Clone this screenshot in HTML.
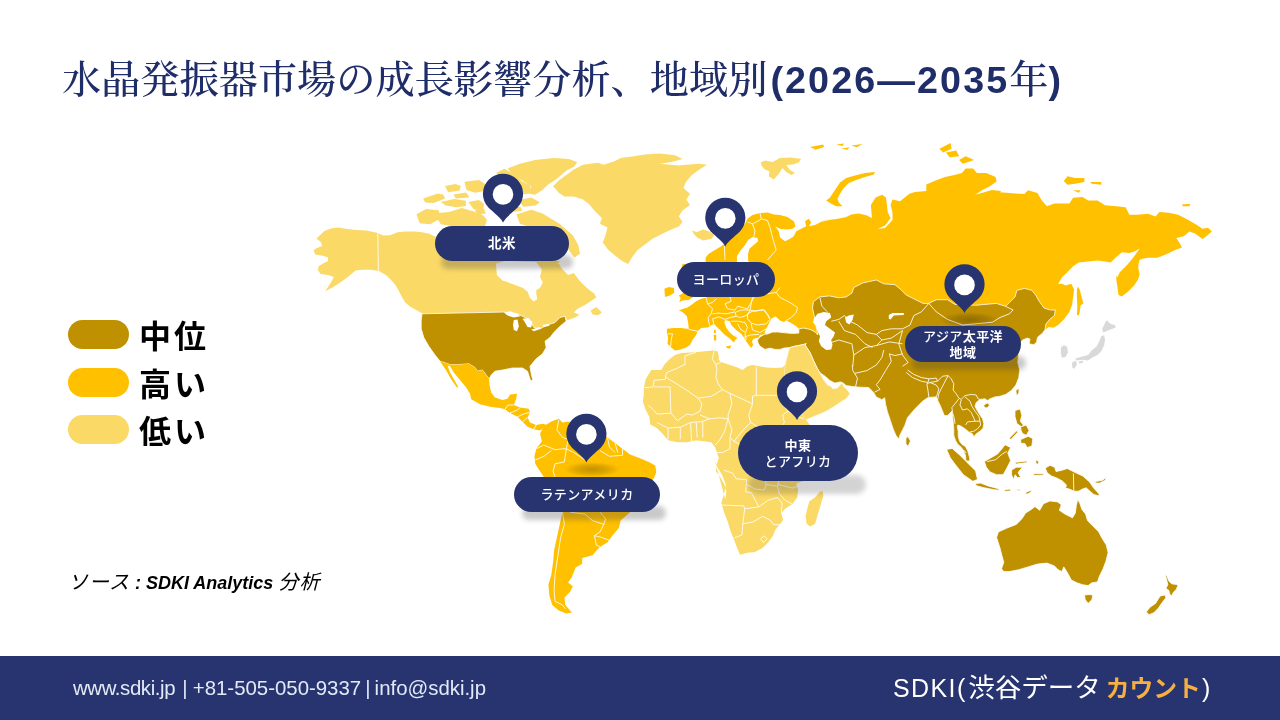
<!DOCTYPE html>
<html lang="ja">
<head>
<meta charset="utf-8">
<title>水晶発振器市場の成長影響分析</title>
<style>
html,body{margin:0;padding:0;}
body{width:1280px;height:720px;position:relative;overflow:hidden;background:#fff;font-family:"Liberation Sans","Noto Sans CJK JP",sans-serif;}
.title{position:absolute;left:62px;top:53px;white-space:nowrap;color:#1f2d69;font-family:"Liberation Serif","Noto Serif CJK SC",serif;font-size:39.2px;line-height:54px;font-weight:500;}
.title b{font-family:"Liberation Sans","Noto Sans CJK JP",sans-serif;font-weight:700;font-size:37.7px;letter-spacing:2.1px;}
.lg{position:absolute;left:68px;width:61px;height:29px;border-radius:15px;}
.lt{position:absolute;left:139px;font-weight:700;font-size:32px;line-height:36px;letter-spacing:3px;color:#000;white-space:nowrap;}
.src{position:absolute;left:68px;top:569px;font-style:italic;font-size:18px;line-height:26px;color:#000;white-space:nowrap;}
.footer{position:absolute;left:0;top:656px;width:1280px;height:64px;background:#27346f;}
.fl{position:absolute;left:73px;top:20px;color:#e4e9f7;font-size:20.4px;line-height:24px;white-space:nowrap;word-spacing:1.5px;}
.fr{position:absolute;left:893px;top:14px;color:#fff;font-size:25px;line-height:36px;white-space:nowrap;}
.fr b{color:#f5b041;font-weight:700;font-size:23.8px;}
#map{position:absolute;left:0;top:0;}
.psh{position:absolute;border-radius:10px;background:rgba(60,60,60,.28);filter:blur(2.5px);}
.pill{position:absolute;background:#27346f;border-radius:18px;color:#fff;font-family:"Liberation Sans","Noto Sans CJK JP",sans-serif;font-weight:500;font-size:13px;line-height:16.2px;letter-spacing:.4px;text-align:center;padding-top:2px;box-sizing:border-box;display:flex;align-items:center;justify-content:center;}
</style>
</head>
<body>
<svg id="map" width="1280" height="720" viewBox="0 0 1280 720">
<!--MAP-->
<path d="M435,236.6 L429.4,233.8 L421.9,232.3 L414.4,231.5 L405,231.5 L397.5,232.3 L390,235.3 L383.4,235.6 L376.9,232.8 L366.6,230.6 L356.3,230 L346.9,229.1 L338.4,227.6 L330.9,228.5 L324.4,230.9 L319.7,235.6 L316.5,238.4 L321,242.2 L322.1,245.9 L315.9,248.4 L313.5,250.6 L315.4,254.4 L322.5,255.7 L327.8,257.2 L328.1,260.9 L322.5,263.8 L318.4,266.6 L318,270.3 L320.6,274.1 L328.1,275 L333.8,276.9 L330.9,282.5 L325.3,291.3 L332.8,287.2 L340.3,282.5 L346.9,277.8 L353.4,272.2 L356.3,270.3 L363.8,269.8 L371.3,269.8 L377.8,270.9 L383.4,274.1 L390,278.8 L395.6,285.3 L399.4,291.9 L402.2,297.5 L405,302.2 L410.6,306.9 L417.2,310.6 L422.8,313.8 L422,315 L505,313.8 L510,316.5 L517.5,315.5 L525,319 L530,323 L533.8,329 L540,330 L547.5,326.5 L555,324 L560,319 L565,316.2 L567,320 L568.1,320 L575.6,317.2 L579.4,314.4 L573.8,312.5 L577.5,308.8 L585,305 L590.6,301.3 L596.3,297.5 L594.4,293.8 L586.9,288.1 L579.4,280.6 L573.8,273.1 L568.1,275 L562.5,269.4 L558.8,263.8 L551.3,261.9 L545.6,264.7 L541.9,269.4 L560,262 L545,255 L520,250 L500,250 L470,240Z" fill="#fad966"/>
<path d="M590.6,310.6 L596.3,306.9 L601.9,312.5 L598.1,315.3 L592.5,314.4Z" fill="#fad966"/>
<path d="M422,313.8 L505,312 L510,315 L517.5,313.8 L525,317.5 L530,321.2 L533.8,327.5 L540,328.8 L547.5,325 L555,322.5 L560,317.5 L565,316.2 L566.2,321.2 L560,326.2 L553.8,332.5 L550,337.5 L545,341.2 L546.2,347.5 L542.5,353.8 L536.2,358.8 L530,366.2 L531.2,373.8 L533,380.5 L530.5,380.5 L527.5,371.2 L522.5,368 L512.5,368 L502.5,370 L495,371.2 L491.2,375 L489.2,378.8 L486.2,375 L482.5,370 L477.5,371.2 L475,367.5 L468.8,363.8 L460,364.5 L450,364.5 L440,361.2 L435,355 L428.8,346.2 L423.8,337.5 L421.2,328.8 L421.2,320Z" fill="#bf9000" stroke="#fff" stroke-width="0.8" stroke-linejoin="round"/>
<path d="M440,361.2 L450,364.5 L460,364.5 L468.8,363.8 L475,367.5 L477.5,371.2 L482.5,370 L486.2,375 L489.2,378.8 L489.5,385 L491.2,392.5 L495,397.5 L502.5,400 L507.5,398.8 L510,394.5 L517,393.8 L516.2,398.8 L513.8,405 L520,407.5 L528.8,408.8 L530,412.5 L527.5,417.5 L530,422.5 L536.2,425 L542.5,423.8 L547.5,425 L543.8,428 L540,430.5 L533.8,429.2 L527.5,426.8 L522.5,421.8 L517.5,416.8 L510,413 L505,409.2 L500,408 L490,406.8 L480,404.2 L471.2,399.2 L470,393.8 L466.2,387.5 L460,380 L453.8,372.5 L450,366 L447.5,365.5 L450,372.5 L455,381.2 L458.5,387.5 L456.5,387 L451.2,379.2 L446.2,370.5 L441.2,363Z" fill="#ffc000"/>
<path d="M543.8,426.3 L551.3,421.6 L558.8,418.8 L562.5,422.5 L568.1,421.6 L577.5,424.4 L592.5,428.1 L607.5,437.5 L615,443.1 L622.5,448.8 L630,454.4 L639.4,458.1 L648.8,461.9 L655.3,465.6 L656.3,472.2 L654.4,476.9 L639.4,500 L630,512.2 L620.6,520.6 L618.8,528.1 L613.1,534.7 L607.5,542.2 L600,546.9 L597.2,549.7 L592.5,555.3 L582.2,558.1 L582.2,563.8 L575.6,567.5 L571.9,576.9 L568.1,582.5 L572.8,586.3 L570,591.9 L564.4,597.5 L565.3,605 L571.9,612.5 L566.3,613.4 L558.8,610.6 L552.2,605 L549.4,595.6 L548.4,584.4 L551.3,575 L553.1,561.9 L554.1,550.6 L556.9,537.5 L559.7,524.4 L562.5,512.2 L543.8,476.9 L540,471.3 L535.3,463.8 L534.4,456.3 L536.3,448.8 L541.9,441.3 L540,433.8Z" fill="#ffc000"/>
<path d="M553.1,186.3 L558.8,180.6 L566.3,175 L573.8,169.4 L583.1,164.7 L598.1,162.8 L603.8,164.7 L615,160.9 L620.6,158.1 L633.8,156.3 L645,154.4 L660,153.4 L675,155.3 L682.5,159.1 L671.3,161.9 L660,163.8 L678.8,165.6 L686.3,164.7 L699.4,163.8 L706.9,164.7 L699.4,169.4 L691.9,175 L686.3,181.6 L683.4,188.1 L690,193.8 L686.3,199.4 L690,205 L682.5,210.6 L678.8,216.3 L682.5,221.9 L678.8,226.6 L671.3,229.4 L661.9,234.1 L652.5,238.8 L645,244.4 L637.5,250 L631.9,257.5 L628.1,264.1 L622.5,261.3 L615,255.6 L608.4,250 L602.8,242.5 L605.6,235 L607.5,227.5 L600,223.8 L601.9,218.1 L594.4,210.6 L588.8,204.1 L583.1,199.4 L573.8,196.6 L564.4,196.6 L558.8,192.8Z" fill="#fad966"/>
<path d="M691.9,230.3 L696.6,232.2 L703.1,229.4 L708.8,231.3 L714.4,235 L711.6,238.8 L703.1,240.6 L697.5,237.8 L693.8,234.1Z" fill="#fad966"/>
<path d="M507.8,168.4 L520,163.8 L535,160 L553.8,158.1 L568.8,159.1 L577.2,161.9 L574.4,166.6 L566.9,170.3 L561.3,175 L555.6,179.7 L548.1,184.4 L542.5,190 L535,194.7 L529.4,193.8 L531.3,186.3 L525.6,182.5 L520,178.8 L512.5,175Z" fill="#fad966"/>
<path d="M416.5,214.2 L426,209.1 L438.6,210.2 L440.7,218.3 L430.2,224.3 L419.7,223.3Z" fill="#fad966"/>
<path d="M437.7,213 L449.2,212 L461.8,208 L472.3,211 L482.8,215.1 L487,220.1 L484.9,226.2 L476.5,228.2 L455.5,226.6 L440.8,224.2 L437.7,219.1Z" fill="#fad966"/>
<path d="M423.1,198.4 L437.8,193.4 L443.1,194.4 L445.2,198.4 L433.6,203.1 L425.2,202.5Z" fill="#fad966"/>
<path d="M440.7,202.1 L454.3,199.1 L465.9,200.7 L465.9,206.1 L456.4,207.2 L445.9,205.5Z" fill="#fad966"/>
<path d="M445,186.1 L455.5,184.1 L460.7,186.1 L459.7,190.6 L448.1,192.2Z" fill="#fad966"/>
<path d="M453.6,194.6 L466.2,192.6 L469.3,197.6 L455.7,198.6Z" fill="#fad966"/>
<path d="M464.4,181.8 L479.1,180.1 L485.4,184.2 L483.3,191.3 L474.9,192.7 L466.5,189.9Z" fill="#fad966"/>
<path d="M496.2,172.8 L504.6,168.8 L513,173.8 L521.4,179.9 L515.1,185 L506.7,181.9 L500.4,177.9Z" fill="#fad966"/>
<path d="M519.4,180 L529.9,185.1 L532,193.2 L523.6,194.2 L519.4,188.1Z" fill="#fad966"/>
<path d="M468.4,202 L478.9,200 L484.1,204 L483.1,209.1 L473.6,209.1Z" fill="#fad966"/>
<path d="M518.8,200.1 L531.4,197.5 L539.8,202.2 L535.6,205.6 L523,206.8Z" fill="#fad966"/>
<path d="M474.4,209.5 L483.8,208.5 L485.9,213.6 L477.5,214.6Z" fill="#fad966"/>
<path d="M511.9,207.7 L520.3,206.7 L522.4,210.7 L514,211.8Z" fill="#fad966"/>
<path d="M516.3,214.4 L531.3,209.7 L542.5,213.4 L559.4,223.8 L572.5,235 L578.1,244.4 L580,253.8 L574.4,257.5 L568.8,250 L565,242.5 L550,235 L531.3,227.5 L520,223.8Z" fill="#fad966"/>
<path d="M675,350.6 L671.2,347.5 L667.5,343.8 L668.1,337.5 L666.9,332.5 L666.9,328.8 L673.8,328.1 L681.2,328.1 L688.8,329 L688.1,322.5 L686.9,316.2 L682.5,311.9 L678.8,310.6 L681.2,309.4 L687.5,307.5 L691.2,305 L696.2,301.2 L701.2,298.8 L706.2,297.5 L710,290 L713,280 L708,270 L705.6,261.9 L705.6,257.5 L708.8,253.8 L715,250 L721.2,246.2 L732.5,237.5 L740,230 L745,223.8 L747.5,218.8 L752.5,215 L760,213.1 L767.5,212.5 L773.8,214.4 L780,215 L787.5,216.9 L793.8,221.2 L795.6,226.2 L792.5,228.8 L786.2,229.4 L780,228.8 L775,226.2 L778.8,231.2 L780,237.5 L785,241.2 L790,238.8 L793.8,236.2 L796.2,231.2 L801.2,228.8 L806.2,226.2 L805,221.2 L808.8,218.8 L811.2,222.5 L808.8,226.2 L815,225 L823.8,220.6 L830,218.1 L821.3,221.9 L828.8,220 L836.3,219.1 L845.6,217.2 L851.3,214.4 L858.8,213.4 L866.3,215.3 L871.9,218.1 L870.9,205 L875.6,197.5 L882.2,194.7 L885.9,197.5 L886.9,205 L887.8,212.5 L890.6,218.1 L885,225.6 L877.5,229 L885,227.9 L892.5,220 L892.5,212.5 L890.6,205 L892.5,199.4 L900,201.3 L909.4,193.8 L915,191.9 L926.3,190.9 L926.3,184.4 L935.6,180.6 L945,176.9 L954.4,175 L961.9,173.1 L965.6,168.4 L973.1,168.4 L976.9,173.1 L986.3,173.1 L995.6,176.9 L996.6,181.6 L990,186.3 L982.5,190 L975,194.7 L982.5,192.8 L991.9,190 L1001.3,190.9 L1000,192.2 L1009.4,193.1 L1024.4,194.1 L1028.1,190.3 L1037.5,193.1 L1041.3,199.7 L1046.9,206.3 L1054.4,203.4 L1069.4,203.4 L1073.1,197.8 L1082.5,196.9 L1088.1,200.6 L1097.5,200.6 L1105,205.3 L1116.3,206.3 L1125.6,207.2 L1129.4,214.7 L1136.9,214.7 L1148.1,213.8 L1155.6,216.6 L1159.4,211.9 L1168.8,212.8 L1178.1,214.7 L1187.5,219.4 L1196.9,225 L1202.5,228.8 L1208.1,227.8 L1211.9,231.6 L1206.3,236.3 L1202.5,239.1 L1195,233.4 L1189.4,231.6 L1183.8,236.3 L1176.3,238.1 L1180,243.8 L1181.9,247.5 L1174.4,250.3 L1166.9,254.1 L1157.5,257.8 L1148.1,257.8 L1142.5,258.8 L1139.7,259.7 L1138.4,264.4 L1138.4,270 L1138.4,268.8 L1139.7,274.4 L1137.8,280 L1134.1,285.6 L1128.4,291.3 L1121.9,296.5 L1118.5,295 L1117.2,285.6 L1116.3,280 L1116.3,275.3 L1117.2,277.5 L1120,271.9 L1127.5,264.4 L1133.1,257.8 L1137.8,251.3 L1139.7,248.4 L1135,251.3 L1129.4,253.1 L1121.9,252.2 L1116.3,256.9 L1110.6,262.5 L1105,261.6 L1097.5,260.6 L1088.1,261.6 L1078.8,262.5 L1073.1,266.3 L1067.5,271.9 L1061.9,277.5 L1058.1,284.1 L1061.9,283.8 L1065.6,285.6 L1071.3,283.8 L1074.1,289.4 L1073.1,296.9 L1072.2,304.4 L1069.4,311.9 L1063.8,319.4 L1058.1,325 L1053.4,327.8 L1048.8,326.9 L1045,329.7 L1042.2,333.4 L1037.5,337.2 L1036.6,341.9 L1033.8,344.7 L1029.1,343.8 L1030,339.1 L1027.2,338.1 L1022.5,340 L1019.7,343.8 L1017.8,362.5 L1019.7,370 L1018.8,377.5 L1015.9,385 L1011.3,390.6 L1005.6,394.4 L1000,396.3 L995,396.9 L990,398.8 L987.5,400.6 L985,398.8 L980,399.4 L976.2,402.5 L975,406.2 L976.9,410 L980,415 L982.5,418.8 L983.8,423.8 L983.1,428.1 L980,431.2 L976.2,433.8 L973.8,436.9 L972.5,433.8 L968.8,431.9 L965,428.8 L961.2,426.2 L957.8,425 L957.2,426.5 L958.2,431.2 L958.2,436.2 L959.5,441 L962,444.5 L965.2,446.2 L967.8,451 L969.5,457.5 L969.8,461 L966,461 L965.5,455.2 L963.5,450.6 L961,447 L957.9,444.5 L955.5,440.4 L953.8,435.2 L953.8,430 L953.4,423.8 L952.8,417.5 L951.9,411.2 L950,413.1 L947.5,415.6 L944.4,415.6 L943.1,412.5 L940,405 L937.5,400 L936.2,396.9 L928.1,397.5 L922.5,401.2 L915,408.8 L907.5,417.5 L905,425 L900,435 L898.8,439.1 L895.9,435.3 L893.1,428.8 L890.3,420.3 L887.5,411.9 L885.6,404.4 L884.7,397.8 L881.9,399.7 L876.3,396.9 L873.4,392.2 L868.8,387.5 L860,387.2 L852.5,386.5 L846.2,385.6 L842.5,382.5 L840,381.9 L835,383.1 L830,380.6 L825,376.2 L820,372.8 L820,373.1 L823.8,380 L827.5,385 L831.2,386.5 L832.5,388.8 L837.5,388.1 L841.2,383.8 L842.2,383.1 L843.8,386.9 L847.5,390 L850,393.8 L846.2,398.8 L840,402.5 L832.5,407.5 L825,411.9 L817.5,415 L810,418.1 L806.2,420 L803.1,416.9 L798.8,407.5 L795,396.2 L790,385 L783.8,374.4 L785,365 L786.2,360 L787.5,355 L788.8,350 L790,347.5 L783.8,348.1 L780,349.4 L775,349.4 L770,348.1 L765,349.4 L760,346.2 L758.1,343.1 L757.5,340 L760,336.9 L763.8,334.4 L760,335 L758.8,337.5 L753.8,338.8 L751.9,341.2 L753.1,345 L751.2,348.1 L748.8,345 L746.2,341.2 L743.8,337.5 L741.2,333.8 L736.2,330 L731.2,325 L730,321.2 L725,320 L724.4,322.5 L726.2,327.5 L728.8,331.2 L732.5,335 L737.5,338.1 L735,340 L733.8,342.5 L730,338.8 L725,335 L720,330 L716.2,326.2 L713.8,323.8 L710,326.2 L707.5,327.5 L701.2,328.1 L697.5,331.2 L696.2,335 L692.5,340 L690,345 L685,348.1 L678.8,350Z" fill="#ffc000"/>
<path d="M664.4,288.8 L668.8,286.9 L673.8,288.1 L674.4,292.5 L670,295.6 L665,296.9Z" fill="#ffc000"/>
<path d="M679.4,301.9 L680.6,298.1 L678.8,295.6 L681.9,294 L685,290 L682.5,285 L685,277.5 L681.2,270 L682.5,263.8 L688.8,265 L692.5,275 L697.5,285 L696.2,292.5 L692.5,297.5 L688.8,300 L682.5,300.6Z" fill="#ffc000"/>
<path d="M713.8,330 L715.6,329.4 L715.9,333.1 L714,333.1Z" fill="#ffc000"/>
<path d="M713.8,335 L716.2,334.4 L716.2,340.6 L714,340.6Z" fill="#ffc000"/>
<path d="M726.2,346.2 L731.2,345.6 L730,348.8 L726.9,348.1Z" fill="#ffc000"/>
<path d="M826.2,200.6 L830,197.5 L835,190 L840,182.5 L846.2,178.1 L855,175.6 L865,173.1 L875,171.9 L873.8,174.4 L865,176.9 L856.2,180 L848.8,183.1 L843.8,188.1 L840,193.8 L837.5,198.8 L838.8,202.5 L842.5,206.2 L836.2,206.2 L831.2,203.8Z" fill="#ffc000"/>
<path d="M939.4,148.8 L950.6,143.1 L951.6,148.8 L943.1,152.5Z" fill="#ffc000"/>
<path d="M945.9,152.5 L956.3,150.6 L959.1,156.3 L949.7,157.2Z" fill="#ffc000"/>
<path d="M959.1,160 L965.6,156.3 L974.1,160 L962.8,163.8Z" fill="#ffc000"/>
<path d="M810,146.9 L823.1,144.6 L824.1,146.9 L815.6,149.7Z" fill="#ffc000"/>
<path d="M836.3,144.6 L843.8,143.5 L842.8,145.9Z" fill="#ffc000"/>
<path d="M840.9,148.8 L849.4,147.3 L847.5,149.7Z" fill="#ffc000"/>
<path d="M851.3,145.4 L862.5,144.1 L856.9,147.3Z" fill="#ffc000"/>
<path d="M1063.8,180.9 L1067.5,176.3 L1075,178.1 L1084.4,178.1 L1084.4,181.9 L1075,183.8 L1067.5,184.7Z" fill="#ffc000"/>
<path d="M1090,181.9 L1101.3,181.9 L1101.3,184.7 L1091.9,183.8Z" fill="#ffc000"/>
<path d="M1073.1,190.3 L1080.6,190.3 L1078.8,192.8Z" fill="#ffc000"/>
<path d="M1181.9,204.4 L1190.3,203.8 L1189.4,206.3 L1182.8,206.3Z" fill="#ffc000"/>
<path d="M1077.8,286.6 L1079.7,289.4 L1081.6,296.9 L1083.4,303.4 L1080.6,305.3 L1079.7,311.9 L1078.8,315.6 L1076.9,314.7 L1077.3,306.3 L1076.9,296.9 L1076.9,289.4Z" fill="#ffc000"/>
<path d="M760.6,162.5 L765,160.6 L772.5,161.9 L780,158.1 L790,157.5 L801.2,158.8 L798.8,162.5 L792.5,164.4 L786.2,165 L790,170 L795,173.1 L791.2,175 L786.2,171.9 L782.5,168.1 L778.8,173.8 L773.8,179.4 L768.8,176.2 L769.4,171.2 L765,169.4 L761.9,166.2Z" fill="#fad966"/>
<path d="M814.4,316.6 L812.5,308.1 L813.4,301.6 L820,296.9 L829.4,295.9 L838.8,297.8 L846.3,296.9 L851.9,293.1 L853.8,287.5 L853.8,287.5 L863.1,282.8 L876.3,280 L883.8,283.8 L895,284.7 L900.6,289.4 L906.3,295 L913.8,298.8 L923.1,303.4 L928.8,303.4 L936.3,299.7 L947.5,299.7 L955,304.4 L975.6,305.3 L985,304.4 L996.3,303.4 L1005.6,306.3 L1009.4,302.5 L1015,296.9 L1016.9,290.3 L1024.4,288.4 L1031.9,290.3 L1035.6,295 L1039.4,301.6 L1044.1,308.1 L1050.6,310 L1055.3,310 L1054.4,315.6 L1049.7,319.4 L1045.9,324.1 L1045,329.7 L1042.2,333.4 L1037.5,337.2 L1036.6,341.9 L1033.8,344.7 L1029.1,343.8 L1030,339.1 L1027.2,338.1 L1022.5,340 L1019.7,343.8 L1017.8,362.5 L1019.7,370 L1018.8,377.5 L1015.9,385 L1011.3,390.6 L1005.6,394.4 L1000,396.3 L995,396.9 L990,398.8 L987.5,400.6 L985,398.8 L980,399.4 L976.2,402.5 L975,406.2 L976.9,410 L980,415 L982.5,418.8 L983.8,423.8 L983.1,428.1 L980,431.2 L976.2,433.8 L973.8,436.9 L972.5,433.8 L968.8,431.9 L965,428.8 L961.2,426.2 L957.8,425 L957.2,426.5 L958.2,431.2 L958.2,436.2 L959.5,441 L962,444.5 L965.2,446.2 L967.8,451 L969.5,457.5 L969.8,461 L966,461 L965.5,455.2 L963.5,450.6 L961,447 L957.9,444.5 L955.5,440.4 L953.8,435.2 L953.8,430 L953.4,423.8 L952.8,417.5 L951.9,411.2 L950,413.1 L947.5,415.6 L944.4,415.6 L943.1,412.5 L940,405 L937.5,400 L936.2,396.9 L928.1,397.5 L922.5,401.2 L915,408.8 L907.5,417.5 L905,425 L900,435 L898.8,439.1 L895.9,435.3 L893.1,428.8 L890.3,420.3 L887.5,411.9 L885.6,404.4 L884.7,397.8 L881.9,399.7 L876.3,396.9 L873.4,392.2 L868.8,387.5 L860,387.2 L852.5,386.5 L846.2,385.6 L842.5,382.5 L840,381.9 L835,383.1 L830,380.6 L825,376.2 L820,372.8 L817.5,368.8 L813.8,361.2 L810,352.5 L805,345 L806.2,343.8 L801.2,345 L795,346.2 L790,347.5 L783.8,348.1 L780,349.4 L775,349.4 L770,348.1 L765,349.4 L760,346.2 L758.1,343.1 L757.5,340 L760,336.9 L764.4,334.4 L767.5,334 L772.5,332.1 L777.5,332 L785,332.8 L792.5,333.5 L798.8,333.1 L798.8,328.8 L803.8,328.1 L810,329.4 L815,331.9 L817.8,335Z" fill="#bf9000" stroke="#fff" stroke-width="0.8" stroke-linejoin="round"/>
<path d="M805,345 L810,352.5 L813.8,361.2 L817.5,368.8 L820,373.1 L823.8,380 L827.5,385 L831.2,386.5 L832.5,388.8 L837.5,388.1 L841.2,383.8 L842.2,383.1 L843.8,386.9 L847.5,390 L850,393.8 L846.2,398.8 L840,402.5 L832.5,407.5 L825,411.9 L817.5,415 L810,418.1 L806.2,420 L803.1,416.9 L798.8,407.5 L795,396.2 L790,385 L783.8,374.4 L785,365 L786.2,360 L787.5,355 L788.8,350 L790,347.5 L795,346.2 L801.2,345 L806.2,343.8Z" fill="#fad966" stroke="#fff" stroke-width="0.8" stroke-linejoin="round"/>
<path d="M675,355 L681.2,353.1 L690,352.5 L697.5,351.9 L705,351.2 L712.5,350.6 L717.5,351.2 L718.8,356.2 L718.8,360 L722.5,362.5 L730,365 L737.5,367.5 L742.5,370 L747.5,366.2 L752.5,365 L758.8,366.2 L766.2,367.5 L775,368.1 L782.5,367.5 L785,365 L783.8,374.4 L790,385 L795,396.2 L798.8,407.5 L803.1,416.9 L806.2,420 L812,428 L830,431 L846,436 L845,445 L835,470 L796.3,483.4 L798.1,490 L797.2,497.5 L792.5,504.1 L785,508.8 L781.3,513.4 L783.1,520 L779.4,524.7 L775.6,529.4 L772.8,535.9 L768.1,542.5 L762.5,548.1 L755,551.9 L747.5,552.8 L740,554.7 L737.2,548.1 L734.4,540.6 L730.6,531.3 L727.8,521.9 L724.1,512.5 L721.3,503.1 L724.1,493.8 L725.9,484.4 L722.2,475 L717.5,467.5 L714.7,460 L725.3,499.4 L726.3,491.9 L724.4,484.4 L720.6,477.8 L715.9,471.3 L716.9,463.8 L718.8,458.1 L716.9,452.5 L715,446.9 L711.3,442.2 L703.8,441.3 L696.3,440.3 L686.9,442.2 L677.5,442.2 L668.1,440.3 L662.5,433.8 L656.9,428.1 L650.3,424.4 L649.4,416.9 L645.6,409.4 L642.8,401.9 L643.8,394.4 L643.8,388.8 L645.6,379.4 L651.3,370 L661.2,370 L665,363.8 L670,358.8Z" fill="#fad966"/>
<path d="M819.7,491.9 L822.5,490.9 L823.4,495.6 L820.6,505 L817.8,514.4 L815,523.8 L810.3,526.6 L806.6,523.8 L805.6,516.3 L807.5,507.8 L809.4,501.3 L815,497.5Z" fill="#fad966"/>
<path d="M983.7,404.9 L987.4,403.1 L989.7,404.9 L987.4,407.8 L984.6,407.8Z" fill="#bf9000" stroke="#fff" stroke-width="0.8" stroke-linejoin="round"/>
<path d="M1015.9,390.3 L1019.1,388.4 L1018.8,393.1 L1016.5,395.9Z" fill="#bf9000" stroke="#fff" stroke-width="0.8" stroke-linejoin="round"/>
<path d="M905.9,438.1 L908.1,436.6 L910.4,440.9 L908.1,446.6 L905.9,443.8Z" fill="#bf9000" stroke="#fff" stroke-width="0.8" stroke-linejoin="round"/>
<path d="M946.6,449.4 L952.2,448.4 L959.7,455 L968.1,463.4 L975.6,470.9 L977.5,479.4 L972.8,481.3 L963.4,474.7 L955.9,465.3 L950.3,457.8Z" fill="#bf9000" stroke="#fff" stroke-width="0.8" stroke-linejoin="round"/>
<path d="M1015,410.4 L1020.3,409.1 L1021.8,415.6 L1020.3,421.3 L1023.4,425 L1021.6,426.9 L1016.9,423.5 L1015,416.6Z" fill="#bf9000" stroke="#fff" stroke-width="0.8" stroke-linejoin="round"/>
<path d="M1020.6,426.9 L1026.3,425 L1029.1,430.6 L1026.3,435.3 L1022.5,433.4 L1021,430.3Z" fill="#bf9000" stroke="#fff" stroke-width="0.8" stroke-linejoin="round"/>
<path d="M1009.4,438.1 L1016.9,430.6 L1017.8,432.1 L1010.9,439.6Z" fill="#bf9000" stroke="#fff" stroke-width="0.8" stroke-linejoin="round"/>
<path d="M1020.6,439.6 L1028.1,436.3 L1032.8,438.5 L1031.9,446 L1027.2,447.5 L1024.8,443.4 L1021,443.4Z" fill="#bf9000" stroke="#fff" stroke-width="0.8" stroke-linejoin="round"/>
<path d="M984.4,461.6 L990.9,457.8 L997.5,454.1 L1002.2,448.4 L1005,444.7 L1010.6,447.5 L1007.8,453.1 L1010.6,460.6 L1006.9,468.1 L1003.1,474.7 L996.6,474.7 L990,471.9 L986.3,467.2Z" fill="#bf9000" stroke="#fff" stroke-width="0.8" stroke-linejoin="round"/>
<path d="M975,483.5 L980.6,483.1 L988.1,485.9 L997.5,488.4 L1000.3,490.3 L993.8,489.7 L984.4,487.8 L976.9,485.9Z" fill="#bf9000" stroke="#fff" stroke-width="0.8" stroke-linejoin="round"/>
<path d="M1004.1,489.7 L1010.6,489.1 L1010.6,491 L1005,491.2Z" fill="#bf9000" stroke="#fff" stroke-width="0.8" stroke-linejoin="round"/>
<path d="M1014.4,489.7 L1020,489.3 L1020,491Z" fill="#bf9000" stroke="#fff" stroke-width="0.8" stroke-linejoin="round"/>
<path d="M1025.6,492.5 L1032.2,489.7 L1030.3,492.5 L1026.6,494.4Z" fill="#bf9000" stroke="#fff" stroke-width="0.8" stroke-linejoin="round"/>
<path d="M1011.6,470 L1016.3,467.2 L1022.8,467.2 L1020,470 L1018.1,472.8 L1020.9,477.5 L1017.2,477.5 L1015.3,474.7 L1013.4,479.4 L1011.6,474.7Z" fill="#bf9000" stroke="#fff" stroke-width="0.8" stroke-linejoin="round"/>
<path d="M1014.4,462.5 L1026.6,461 L1027.5,462.5 L1016.3,464Z" fill="#bf9000" stroke="#fff" stroke-width="0.8" stroke-linejoin="round"/>
<path d="M1035.9,459.7 L1038.8,461.6 L1037.8,464.4 L1035.9,463.4Z" fill="#bf9000" stroke="#fff" stroke-width="0.8" stroke-linejoin="round"/>
<path d="M1033.1,473.8 L1043.4,473.8 L1043.4,475.3 L1034.1,475.6Z" fill="#bf9000" stroke="#fff" stroke-width="0.8" stroke-linejoin="round"/>
<path d="M1045.3,468.1 L1050,465.3 L1054.7,467.2 L1056,471.5 L1061.3,470.4 L1067.3,468.5 L1074.8,472.3 L1082.8,476 L1089.8,482.2 L1093.5,487.8 L1099.1,494 L1099.1,495.9 L1093.7,494.4 L1089.9,491.2 L1086.2,487.8 L1082.4,489.1 L1078.7,491.2 L1073.8,491.2 L1070.1,489.3 L1065.4,488 L1066.5,485 L1062.2,480.9 L1056.6,477.9 L1051.5,476 L1047.2,472.8Z" fill="#bf9000" stroke="#fff" stroke-width="0.8" stroke-linejoin="round"/>
<path d="M1095,481.6 L1102.5,480.3 L1105.9,477.5 L1105.3,480.3 L1099.7,483.1 L1095.4,483.1Z" fill="#bf9000" stroke="#fff" stroke-width="0.8" stroke-linejoin="round"/>
<path d="M996.6,537.5 L998.4,531.9 L1006.9,528.1 L1016.3,524.4 L1021.9,518.8 L1025.6,513.1 L1031.3,509.4 L1035,506.6 L1039.7,510.3 L1043.4,503.8 L1050,500.9 L1057.5,501.9 L1061.3,504.7 L1059.4,510.3 L1065,514.1 L1072.5,517.8 L1075.3,513.1 L1076.3,505.6 L1077.8,499.1 L1080,503.8 L1081.9,509.4 L1085.6,514.1 L1087.5,520.6 L1093.1,526.3 L1098.8,531.9 L1101.6,537.5 L1106.3,545 L1108.1,552.5 L1107.8,553.8 L1105.9,561.3 L1103.1,568.8 L1099.4,576.3 L1097.5,581.9 L1091.9,582.8 L1088.1,585.6 L1082.5,584.7 L1076.9,582.8 L1071.3,580 L1068.4,574.4 L1065.6,569.7 L1063.8,566.9 L1061.9,571.6 L1058.1,569.7 L1054.4,565.9 L1046.9,563.1 L1037.5,564.1 L1028.1,566.9 L1018.8,569.7 L1009.4,571.6 L1003.8,571.6 L1001.5,568.8 L1003.8,562.2 L1001.9,555.6 L1000,548.1Z" fill="#bf9000" stroke="#fff" stroke-width="0.8" stroke-linejoin="round"/>
<path d="M1084.4,595 L1089.1,594.6 L1092.8,595 L1091.9,599.7 L1088.1,603.4 L1085.3,599.7Z" fill="#bf9000" stroke="#fff" stroke-width="0.8" stroke-linejoin="round"/>
<path d="M1165,574.4 L1166.9,576.3 L1168.8,580.9 L1171.6,583.8 L1178.1,584.7 L1176.3,589.4 L1173.4,592.2 L1171.6,595.9 L1169.7,594.1 L1168.8,590.3 L1165.9,588.4 L1167.8,584.7 L1166.5,579.1Z" fill="#bf9000" stroke="#fff" stroke-width="0.8" stroke-linejoin="round"/>
<path d="M1160.3,595.9 L1165,595 L1165.9,597.8 L1162.2,602.5 L1158.4,608.1 L1153.8,612.8 L1149.1,614.7 L1146.3,611.9 L1150,607.2 L1155.6,603.4 L1158.4,598.8Z" fill="#bf9000" stroke="#fff" stroke-width="0.8" stroke-linejoin="round"/>
<path d="M1102.2,328.8 L1105,323.1 L1106.9,320.3 L1110.6,324.1 L1115.3,325 L1115.3,327.8 L1109.7,329.7 L1105.9,331.6 L1103.1,332.5Z" fill="#d9d9d9"/>
<path d="M1101.3,336.3 L1104.1,335.3 L1105,340 L1104.1,345.6 L1101.3,351.3 L1097.5,355 L1091.9,357.8 L1088.1,360.6 L1082.5,359.7 L1076.9,360.6 L1075,358.8 L1080.6,356.9 L1088.1,355 L1091.9,350.3 L1096.6,346.6 L1099.4,340.9Z" fill="#d9d9d9"/>
<path d="M1072.2,362.5 L1075.9,360.6 L1076.9,364.4 L1074.1,369.1 L1072.2,367.2Z" fill="#d9d9d9"/>
<path d="M1078.8,361.6 L1083.4,360.6 L1082.5,362.9 L1079.1,363.4Z" fill="#d9d9d9"/>
<path d="M1060.9,347.5 L1063.8,345.3 L1067.1,346.6 L1067.9,352.2 L1065.6,356.9 L1061.9,357.8 L1060.9,353.1Z" fill="#d9d9d9"/>
<path d="M495.9,263.8 L504.4,260.9 L536.3,261.9 L541.9,269.4 L540,276.9 L542.8,282.5 L540,288.1 L536.3,290 L536.3,293.8 L537.2,299.4 L533.4,301.3 L529.7,297.5 L527.8,291.9 L523.1,288.1 L513.8,284.4 L502.5,280.6 L496.9,275Z" fill="#fff"/>
<path d="M503.8,312.5 L510,311.2 L517.5,313.8 L520.5,316.2 L513.8,317.5 L507.5,315.5Z" fill="#fff"/>
<path d="M513.8,320 L517.5,319.5 L518.8,326.2 L517,331.2 L513.8,330 L513,325Z" fill="#fff"/>
<path d="M522.5,318.8 L528.8,318 L532.5,322.5 L531.2,327.5 L527.5,327 L525,322.5Z" fill="#fff"/>
<path d="M531.2,329.5 L540,327 L541.2,328.8 L533.8,331.2Z" fill="#fff"/>
<path d="M542.5,325 L548.8,323.8 L549.5,325.8 L543.8,327Z" fill="#fff"/>
<path d="M764.4,333.5 L766.2,328.8 L768.8,323.8 L771.2,318.8 L775.6,316.2 L780,320.6 L783.8,321.9 L786.2,320.6 L791.2,323.1 L796.2,326.2 L798.8,328.8 L798.8,332.8 L792.5,333.2 L785,332.5 L777.5,331.8 L772.5,331.9 L767.5,333.8Z" fill="#fff"/>
<path d="M748.1,240 L752.5,236.9 L757.5,238.1 L758.1,241.2 L753.8,245 L749.4,248.8 L748.1,253.8 L748.1,261.2 L755,263.8 L760,265 L760,270 L750,271.2 L740,277.5 L735,276.2 L736.9,265 L736.9,256.2 L740,251.2 L745,245Z" fill="#fff"/>
<path d="M813.8,318.8 L817.5,313.8 L823.8,311.9 L830,313.1 L831.2,317.5 L826.2,321.2 L825,325 L830,328.8 L835,332.5 L833.8,336.2 L831.2,340 L832.5,345 L831.2,349.4 L826.2,350 L821.2,346.2 L818.8,341.2 L820,336.2 L817.5,331.2 L816.2,326.2 L813.1,322.5Z" fill="#fff"/>
<path d="M845,317.5 L848.8,315.6 L853.8,314.4 L852.5,320 L849.4,324.4 L846.2,322.5Z" fill="#fff"/>
<path d="M888.8,315 L892.5,313.1 L903.8,313.1 L903.8,315 L893.8,315.6 L890.6,319.4 L888.8,318.8Z" fill="#fff"/>
<path d="M696.3,352.2 L685,355.9 L685,364.4 L677.5,368.1 L666.3,372.8 L665.3,379.4 L654.1,380.3 L653.1,386.9 L644.7,387.8" fill="none" stroke="#fff" stroke-width="1" stroke-linejoin="round" opacity="0.85"/>
<path d="M666.3,377.5 L683.1,387.8 L698.1,398.1 L701.9,403.8 L700,411.3 L692.5,415 L686.9,414.1 L677.5,420.6 L670.9,413.1 L656.9,414.1 L653.1,409.4 L648.4,405.6" fill="none" stroke="#fff" stroke-width="1" stroke-linejoin="round" opacity="0.85"/>
<path d="M698.1,398.1 L711.3,396.3 L722.5,389.7" fill="none" stroke="#fff" stroke-width="1" stroke-linejoin="round" opacity="0.85"/>
<path d="M714.1,351.3 L712.2,358.8 L715.9,364.4 L716.9,370 L715.9,377.5 L718.8,385 L722.5,389.7 L730,393.4 L752.5,403.8 L752.5,396.3 L756.3,395.3" fill="none" stroke="#fff" stroke-width="1" stroke-linejoin="round" opacity="0.85"/>
<path d="M715.9,364.4 L720.6,362.5 L720.6,358.8" fill="none" stroke="#fff" stroke-width="1" stroke-linejoin="round" opacity="0.85"/>
<path d="M756.3,367.2 L756.3,395.3 L778.8,395.3" fill="none" stroke="#fff" stroke-width="1" stroke-linejoin="round" opacity="0.85"/>
<path d="M730,393.4 L731.9,403.8 L728.1,415 L728.1,418.8" fill="none" stroke="#fff" stroke-width="1" stroke-linejoin="round" opacity="0.85"/>
<path d="M752.5,403.8 L748.8,415 L750.6,422.5 L745,428.1 L733.8,441.3 L730,437.5 L731.9,430 L728.1,418.8" fill="none" stroke="#fff" stroke-width="1" stroke-linejoin="round" opacity="0.85"/>
<path d="M700,415 L709.4,418.8 L718.8,417.8 L728.1,418.8 L724.4,431.9 L718.8,441.3 L715,445" fill="none" stroke="#fff" stroke-width="1" stroke-linejoin="round" opacity="0.85"/>
<path d="M654.1,386.9 L670,386.9 L670.9,413.1" fill="none" stroke="#fff" stroke-width="1" stroke-linejoin="round" opacity="0.85"/>
<path d="M656.9,422.5 L668.1,428.1 L680.3,427.2 L690.6,422.5 L701.9,421.6 L709.4,418.8" fill="none" stroke="#fff" stroke-width="1" stroke-linejoin="round" opacity="0.85"/>
<path d="M668.1,428.1 L668.1,439.4" fill="none" stroke="#fff" stroke-width="1" stroke-linejoin="round" opacity="0.85"/>
<path d="M680.3,427.2 L680.3,439.4" fill="none" stroke="#fff" stroke-width="1" stroke-linejoin="round" opacity="0.85"/>
<path d="M690.6,422.5 L691.6,441.3" fill="none" stroke="#fff" stroke-width="1" stroke-linejoin="round" opacity="0.85"/>
<path d="M696.3,422.5 L697.2,437.5" fill="none" stroke="#fff" stroke-width="1" stroke-linejoin="round" opacity="0.85"/>
<path d="M702.8,421.6 L702.8,437.5" fill="none" stroke="#fff" stroke-width="1" stroke-linejoin="round" opacity="0.85"/>
<path d="M730,437.5 L730,448.8 L722.5,452.5 L715.9,452.5" fill="none" stroke="#fff" stroke-width="1" stroke-linejoin="round" opacity="0.85"/>
<path d="M733.8,441.3 L741.3,445 L752.5,442.2 L761.9,445 L771.3,441.3 L778.8,445" fill="none" stroke="#fff" stroke-width="1" stroke-linejoin="round" opacity="0.85"/>
<path d="M750.6,422.5 L760,428.1 L771.3,426.3 L778.8,430 L784.4,422.5 L782.5,415 L788.1,411.3" fill="none" stroke="#fff" stroke-width="1" stroke-linejoin="round" opacity="0.85"/>
<path d="M778.8,395.3 L782.5,403.8 L788.1,411.3 L795.6,415 L803.1,418.8" fill="none" stroke="#fff" stroke-width="1" stroke-linejoin="round" opacity="0.85"/>
<path d="M721.3,505 L743.8,505.9 L744.7,508.8 L758.8,506.9 L768.1,500.3 L777.5,497.5 L782.2,503.1 L781.3,513.4" fill="none" stroke="#fff" stroke-width="1" stroke-linejoin="round" opacity="0.85"/>
<path d="M744.7,508.8 L742.8,523.8 L741.9,535 L734.4,537.8" fill="none" stroke="#fff" stroke-width="1" stroke-linejoin="round" opacity="0.85"/>
<path d="M742.8,523.8 L753.1,521.9 L762.5,516.3 L770,520 L773.8,524.7 L779.4,524.7" fill="none" stroke="#fff" stroke-width="1" stroke-linejoin="round" opacity="0.85"/>
<path d="M724.1,470.3 L732.5,473.1 L736.3,478.8 L746.6,479.7 L745.6,491.9 L751.3,492.8 L758.8,506.9" fill="none" stroke="#fff" stroke-width="1" stroke-linejoin="round" opacity="0.85"/>
<path d="M746.6,484.4 L755,489.1 L764.4,490 L766.3,484.4 L777.5,486.3 L779.4,493.8 L785,500.3 L792.5,504.1" fill="none" stroke="#fff" stroke-width="1" stroke-linejoin="round" opacity="0.85"/>
<path d="M777.5,484.4 L792.5,488.1 L797.2,486.3" fill="none" stroke="#fff" stroke-width="1" stroke-linejoin="round" opacity="0.85"/>
<path d="M760.6,538.8 L764.4,535.9 L767.2,538.8 L763.4,542.5 L760.6,538.8" fill="none" stroke="#fff" stroke-width="1" stroke-linejoin="round" opacity="0.85"/>
<path d="M766.3,484.4 L764.4,475 L768.1,467.5 L766.3,460" fill="none" stroke="#fff" stroke-width="1" stroke-linejoin="round" opacity="0.85"/>
<path d="M777.5,486.3 L779.4,478.8 L776.6,471.3 L777.5,460" fill="none" stroke="#fff" stroke-width="1" stroke-linejoin="round" opacity="0.85"/>
<path d="M668.1,333.8 L672.5,333.8 L671.2,340 L670.6,346.2 L668.1,346.5" fill="none" stroke="#fff" stroke-width="1" stroke-linejoin="round" opacity="0.85"/>
<path d="M688.8,329.4 L697.5,331.2" fill="none" stroke="#fff" stroke-width="1" stroke-linejoin="round" opacity="0.85"/>
<path d="M706.2,297.5 L707.5,303.8 L712.5,308.8 L711.2,313.8 L708.1,317.5 L708.8,322.5 L710,326.2" fill="none" stroke="#fff" stroke-width="1" stroke-linejoin="round" opacity="0.85"/>
<path d="M730,296.9 L731.2,301.2 L725,303.8 L727.5,308.8 L735,310 L737.5,306.2 L747.5,308.8 L753.8,297.5" fill="none" stroke="#fff" stroke-width="1" stroke-linejoin="round" opacity="0.85"/>
<path d="M712.5,313.8 L718.8,313.1 L726.2,313.8 L735,311.9 L736.2,316.2 L730,317.5 L725,319.4" fill="none" stroke="#fff" stroke-width="1" stroke-linejoin="round" opacity="0.85"/>
<path d="M713.8,323.8 L712.5,318.8 L718.8,316.9 L725,319.4" fill="none" stroke="#fff" stroke-width="1" stroke-linejoin="round" opacity="0.85"/>
<path d="M752.5,297.5 L750,310 L755,311.2 L763.8,309.4 L767.5,313.8 L770,318.8" fill="none" stroke="#fff" stroke-width="1" stroke-linejoin="round" opacity="0.85"/>
<path d="M776.2,292.5 L780,297.5 L790,302.5 L797.5,307.5 L796.2,312.5 L791.2,317.5 L786.2,320.6" fill="none" stroke="#fff" stroke-width="1" stroke-linejoin="round" opacity="0.85"/>
<path d="M747.5,313.8 L752.5,311.2 L763.8,310 L767.5,315 L770,319.4 L766.2,323.8 L757.5,325 L751.2,323.1 L747.5,318.8 L747.5,313.8" fill="none" stroke="#fff" stroke-width="1" stroke-linejoin="round" opacity="0.85"/>
<path d="M751.2,323.8 L752.5,330 L760,332.5 L766.2,328.8" fill="none" stroke="#fff" stroke-width="1" stroke-linejoin="round" opacity="0.85"/>
<path d="M736.2,311.9 L741.2,310 L750,310 L747.5,315 L740,317.5 L736.2,316.2" fill="none" stroke="#fff" stroke-width="1" stroke-linejoin="round" opacity="0.85"/>
<path d="M731.2,321.2 L737.5,321.2 L745,322.5 L747.5,327.5 L745,333.8 L746.2,340" fill="none" stroke="#fff" stroke-width="1" stroke-linejoin="round" opacity="0.85"/>
<path d="M737.5,323.8 L741.2,330 L746.2,332.5" fill="none" stroke="#fff" stroke-width="1" stroke-linejoin="round" opacity="0.85"/>
<path d="M743.8,337.5 L750,335 L758.8,334.4" fill="none" stroke="#fff" stroke-width="1" stroke-linejoin="round" opacity="0.85"/>
<path d="M753.8,297.5 L760,292.5 L767.5,293.8 L776.2,292.5 L780,287.5" fill="none" stroke="#fff" stroke-width="1" stroke-linejoin="round" opacity="0.85"/>
<path d="M707.5,303.8 L712.5,302.5 L716.2,298.8" fill="none" stroke="#fff" stroke-width="1" stroke-linejoin="round" opacity="0.85"/>
<path d="M747.5,221.9 L752.5,223.8 L755,231.2 L753.8,236.9" fill="none" stroke="#fff" stroke-width="1" stroke-linejoin="round" opacity="0.85"/>
<path d="M760,213.1 L761.2,218.8 L767.5,220.6 L770,227.5 L772.5,237.5 L776.2,250 L767.5,260" fill="none" stroke="#fff" stroke-width="1" stroke-linejoin="round" opacity="0.85"/>
<path d="M752.5,223.8 L760,220 L761.2,218.8" fill="none" stroke="#fff" stroke-width="1" stroke-linejoin="round" opacity="0.85"/>
<path d="M724.4,246.2 L725,260" fill="none" stroke="#fff" stroke-width="1" stroke-linejoin="round" opacity="0.85"/>
<path d="M831.3,321.3 L838.8,319.4 L844.4,315.6 L850,321.3 L857.5,325 L866.9,332.5 L876.3,334.4 L881.9,330.6 L891.3,328.8 L902.5,328.8 L910,325 L913.8,315.6 L921.3,311.9 L928.8,303.4" fill="none" stroke="#fff" stroke-width="1" stroke-linejoin="round" opacity="0.85"/>
<path d="M838.8,321.3 L844.4,330.6 L855.6,334.4 L865,343.8 L872.5,347.5" fill="none" stroke="#fff" stroke-width="1" stroke-linejoin="round" opacity="0.85"/>
<path d="M827.5,343.8 L838.8,340 L851.9,343.8 L853.8,355 L852.8,366.3" fill="none" stroke="#fff" stroke-width="1" stroke-linejoin="round" opacity="0.85"/>
<path d="M853.8,355 L865,347.5 L876.3,345.6 L889.4,341.9 L902.5,343.8" fill="none" stroke="#fff" stroke-width="1" stroke-linejoin="round" opacity="0.85"/>
<path d="M876.3,334.4 L881.9,340 L891.3,338.1 L902.5,330.6" fill="none" stroke="#fff" stroke-width="1" stroke-linejoin="round" opacity="0.85"/>
<path d="M876.3,345.6 L881.9,340" fill="none" stroke="#fff" stroke-width="1" stroke-linejoin="round" opacity="0.85"/>
<path d="M928.8,303.4 L936.3,311.9 L947.5,319.4 L962.5,325 L992.5,322.2 L1000,317.5 L1009.4,313.8 L1013.1,310 L1005.6,306.3" fill="none" stroke="#fff" stroke-width="1" stroke-linejoin="round" opacity="0.85"/>
<path d="M902.5,330.6 L898.8,343.8 L902.5,355 L908.1,362.5 L902.5,366.3" fill="none" stroke="#fff" stroke-width="1" stroke-linejoin="round" opacity="0.85"/>
<path d="M820,297.8 L821.9,306.3 L827.5,311.9" fill="none" stroke="#fff" stroke-width="1" stroke-linejoin="round" opacity="0.85"/>
<path d="M852.3,365 L852.8,370.6 L857.5,378.1 L855.6,386.6" fill="none" stroke="#fff" stroke-width="1" stroke-linejoin="round" opacity="0.85"/>
<path d="M885.6,370.6 L880,380 L876.3,384.7 L880,389.4 L874.4,392.2" fill="none" stroke="#fff" stroke-width="1" stroke-linejoin="round" opacity="0.85"/>
<path d="M885.6,370.6 L891.3,361.3 L889.4,353.8 L895,355.6 L902.5,353.8" fill="none" stroke="#fff" stroke-width="1" stroke-linejoin="round" opacity="0.85"/>
<path d="M854.7,373.4 L866.9,370.6 L876.3,365 L881.9,357.5 L883.8,350" fill="none" stroke="#fff" stroke-width="1" stroke-linejoin="round" opacity="0.85"/>
<path d="M906.2,372.5 L912.5,377.5 L921.2,381.2 L928.1,382.5 L928.8,378.8 L921.2,377.5 L913.8,374.4 L907.5,370" fill="none" stroke="#fff" stroke-width="1" stroke-linejoin="round" opacity="0.85"/>
<path d="M928.8,378.8 L936.2,378.1 L937.5,381.2 L930,382.5" fill="none" stroke="#fff" stroke-width="1" stroke-linejoin="round" opacity="0.85"/>
<path d="M926.9,383.8 L930,382.5 L936.2,385 L938.8,388.8 L937.5,393.8 L936.2,396.9" fill="none" stroke="#fff" stroke-width="1" stroke-linejoin="round" opacity="0.85"/>
<path d="M926.9,383.8 L928.1,391.2 L928.8,396.9" fill="none" stroke="#fff" stroke-width="1" stroke-linejoin="round" opacity="0.85"/>
<path d="M937.5,400 L938.8,393.8 L941.2,388.8 L943.8,383.8 L948.1,375.6 L951.2,378.8 L953.8,383.8 L953.1,390 L956.2,393.8 L958.8,398.1 L961.2,399.4" fill="none" stroke="#fff" stroke-width="1" stroke-linejoin="round" opacity="0.85"/>
<path d="M937.5,381.2 L942.5,376.2 L948.1,375.6" fill="none" stroke="#fff" stroke-width="1" stroke-linejoin="round" opacity="0.85"/>
<path d="M958.8,398.8 L955,403.8 L951.9,407.5 L952.5,412.5 L954.4,418.8 L955,423.8" fill="none" stroke="#fff" stroke-width="1" stroke-linejoin="round" opacity="0.85"/>
<path d="M961.2,399.4 L965,395.6 L971.2,394.4 L976.2,395 L978.1,398.8 L980,399.4" fill="none" stroke="#fff" stroke-width="1" stroke-linejoin="round" opacity="0.85"/>
<path d="M965,396.9 L970,401.2 L971.9,406.2 L975,411.2 L978.8,416.2 L980,421.2" fill="none" stroke="#fff" stroke-width="1" stroke-linejoin="round" opacity="0.85"/>
<path d="M961.2,400 L960,405 L962.5,410 L967.5,408.8 L971.2,412.5 L973.8,418.1 L975,421.2" fill="none" stroke="#fff" stroke-width="1" stroke-linejoin="round" opacity="0.85"/>
<path d="M965.6,425 L967.5,421.9 L975,421.2 L980,421.2 L980.6,425 L977.5,428.8 L973.8,431.2 L970,431.9" fill="none" stroke="#fff" stroke-width="1" stroke-linejoin="round" opacity="0.85"/>
<path d="M962.5,450 L965,451.2 L966.2,453.1" fill="none" stroke="#fff" stroke-width="1" stroke-linejoin="round" opacity="0.85"/>
<path d="M987.2,461.6 L995.6,459.7 L1002.2,454.1 L1006.9,451.3" fill="none" stroke="#fff" stroke-width="1" stroke-linejoin="round" opacity="0.85"/>
<path d="M1073.4,473.4 L1073.8,491.6" fill="none" stroke="#fff" stroke-width="1" stroke-linejoin="round" opacity="0.85"/>
<path d="M558.8,419.7 L556.9,430 L562.5,437.5 L568.1,439.4 L566.3,448.8" fill="none" stroke="#fff" stroke-width="1" stroke-linejoin="round" opacity="0.85"/>
<path d="M536.3,448.8 L543.8,445 L555,449.7 L562.5,448.8 L566.3,448.8 L564.4,461.9 L555,463.8 L553.1,471.3 L555,476.9" fill="none" stroke="#fff" stroke-width="1" stroke-linejoin="round" opacity="0.85"/>
<path d="M535.3,460 L543.8,456.3 L551.3,450.6" fill="none" stroke="#fff" stroke-width="1" stroke-linejoin="round" opacity="0.85"/>
<path d="M607.5,437.5 L609.4,446.9 L615,452.5" fill="none" stroke="#fff" stroke-width="1" stroke-linejoin="round" opacity="0.85"/>
<path d="M615,443.1 L617.8,452.5" fill="none" stroke="#fff" stroke-width="1" stroke-linejoin="round" opacity="0.85"/>
<path d="M622.5,448.8 L622.5,455.3 L609.4,456.3 L600,450.6" fill="none" stroke="#fff" stroke-width="1" stroke-linejoin="round" opacity="0.85"/>
<path d="M566.3,448.8 L573.8,452.5 L585,460" fill="none" stroke="#fff" stroke-width="1" stroke-linejoin="round" opacity="0.85"/>
<path d="M562.5,512.2 L564.4,524.4 L560.6,537.5 L557.8,556.3 L555,575 L554.1,590 L555,601.3 L562.5,605 L565.3,608.8" fill="none" stroke="#fff" stroke-width="1" stroke-linejoin="round" opacity="0.85"/>
<path d="M570,512.2 L585,514.1 L592.5,520.6 L603.8,524.4 L605.6,518.8 L600,512.2" fill="none" stroke="#fff" stroke-width="1" stroke-linejoin="round" opacity="0.85"/>
<path d="M603.8,524.4 L600,531.9 L594.4,535.6 L596.3,545 L600,546.9" fill="none" stroke="#fff" stroke-width="1" stroke-linejoin="round" opacity="0.85"/>
<path d="M594.4,535.6 L601.9,537.5 L609.4,540.3" fill="none" stroke="#fff" stroke-width="1" stroke-linejoin="round" opacity="0.85"/>
<path d="M377.8,233.4 L378.4,270.9 L388.1,276.9" fill="none" stroke="#fff" stroke-width="1" stroke-linejoin="round" opacity="0.85"/>
<path d="M505,409.2 L508,405 L513.8,405" fill="none" stroke="#fff" stroke-width="1" stroke-linejoin="round" opacity="0.85"/>
<path d="M510,413 L517.5,410 L520,407.5" fill="none" stroke="#fff" stroke-width="1" stroke-linejoin="round" opacity="0.85"/>
<path d="M517.5,416.8 L523.8,413.8 L530,412.5" fill="none" stroke="#fff" stroke-width="1" stroke-linejoin="round" opacity="0.85"/>
<path d="M522.5,421.8 L527.5,417.5" fill="none" stroke="#fff" stroke-width="1" stroke-linejoin="round" opacity="0.85"/>
<path d="M533.8,429.2 L536.2,425" fill="none" stroke="#fff" stroke-width="1" stroke-linejoin="round" opacity="0.85"/>
<!--/MAP-->
</svg>
<svg id="pins" width="1280" height="720" viewBox="0 0 1280 720" style="position:absolute;left:0;top:0">
<defs><radialGradient id="psh"><stop offset="0" stop-color="#000" stop-opacity=".24"/><stop offset=".55" stop-color="#000" stop-opacity=".14"/><stop offset="1" stop-color="#000" stop-opacity="0"/></radialGradient>
<g id="pin"><path d="M0,28.4 C-3,23 -9,19 -14.6,13.6 A20.1,20.1 0 1 1 14.6,13.6 C9,19 3,23 0,28.4Z" fill="#27346f"/><circle cx="0" cy="0.4" r="10.3" fill="#fff"/></g></defs>
<ellipse cx="969.5" cy="320" rx="30" ry="8" fill="url(#psh)"/>
<ellipse cx="592" cy="469.5" rx="28" ry="7.5" fill="url(#psh)"/>
<use href="#pin" x="503" y="194"/>
<use href="#pin" x="725.3" y="218"/>
<use href="#pin" x="964.5" y="284.5"/>
<use href="#pin" x="797" y="391.5"/>
<use href="#pin" x="586.4" y="434"/>
</svg>
<div class="title">水晶発振器市場の成長影響分析、地域別<b style="margin-left:3px">(2026—2035</b>年<b>)</b></div>

<div class="lg" style="top:320px;background:#bf9000"></div><div class="lt" style="top:319px">中位</div>
<div class="lg" style="top:368px;background:#ffc000"></div><div class="lt" style="top:367px">高い</div>
<div class="lg" style="top:415px;background:#fad966"></div><div class="lt" style="top:414px">低い</div>

<div class="src"><span style="font-size:20px;letter-spacing:1px">ソース</span> <b>: SDKI Analytics</b> <span style="font-size:20px;letter-spacing:1px">分析</span></div>

<div class="psh" style="left:441px;top:255px;width:132px;height:14px"></div>
<div class="psh" style="left:912px;top:356px;width:114px;height:14px"></div>
<div class="psh" style="left:748px;top:475px;width:118px;height:19px;opacity:.8"></div>
<div class="psh" style="left:522px;top:506px;width:144px;height:14px"></div>
<div class="pill" style="left:435px;top:226px;width:134px;height:35px;font-weight:700;font-size:13.5px">北米</div>
<div class="pill" style="left:677px;top:262px;width:98px;height:35px">ヨーロッパ</div>
<div class="pill" style="left:905px;top:326px;width:116px;height:36px"><span>アジア<b>太平洋</b><br><b>地域</b></span></div>
<div class="pill" style="left:738px;top:425px;width:120px;height:56px;border-radius:28px"><span><b>中東</b><br>とアフリカ</span></div>
<div class="pill" style="left:514px;top:477px;width:146px;height:35px">ラテンアメリカ</div>

<div class="footer">
<div class="fl"><span style="letter-spacing:-.4px">www.sdki.jp</span> | <span style="margin-left:-2px">+81-505-050-9337</span><span style="margin-left:4px">|</span> <span style="margin-left:-3px">info@sdki.jp</span></div>
<div class="fr"><span style="letter-spacing:1.4px">SDKI</span> <span style="margin-left:-7px">(</span><span style="margin-left:3px;font-size:26.5px">渋谷データ</span> <b style="margin-left:-2px">カウント</b><span style="margin-left:1px">)</span></div>
</div>
</body>
</html>
